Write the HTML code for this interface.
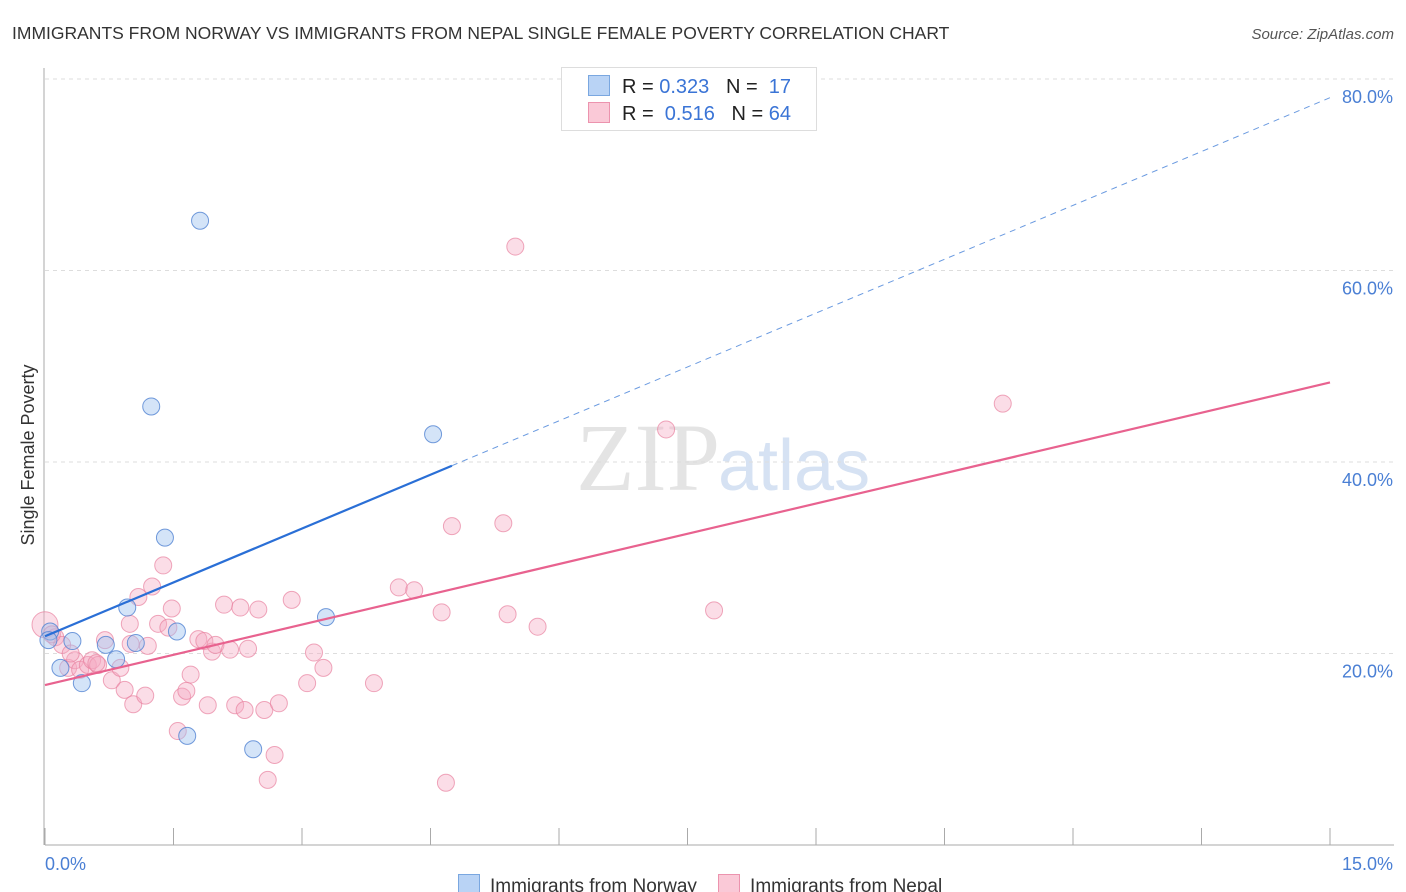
<!DOCTYPE html>
<html><head><meta charset="utf-8"><style>
body{margin:0;background:#fff;font-family:"Liberation Sans",sans-serif}
#wrap{position:relative;width:1406px;height:892px;overflow:hidden}
</style></head><body>
<div id="wrap">
<svg id="svg" width="1406" height="892" xmlns="http://www.w3.org/2000/svg">
<text x="12" y="39" font-size="17.5" fill="#333">IMMIGRANTS FROM NORWAY VS IMMIGRANTS FROM NEPAL SINGLE FEMALE POVERTY CORRELATION CHART</text>
<text x="1394" y="39" font-size="15" fill="#555" font-style="italic" text-anchor="end">Source: ZipAtlas.com</text>
<text x="34" y="455" font-size="18" fill="#333" text-anchor="middle" transform="rotate(-90 34 455)">Single Female Poverty</text>
<text x="720" y="490" font-size="96" fill="#e4e4e4" text-anchor="end" font-family="Liberation Serif,serif">ZIP</text>
<text x="718" y="490" font-size="72" fill="#d6e2f3">atlas</text>
<g id="grid"></g><g id="pts"></g><g id="lines"></g>
</svg>
<div style="position:absolute;left:561px;top:67px;width:254px;height:62px;border:1px solid #ddd;background:#fff;font-size:20px;color:#222">
 <div style="position:absolute;left:26px;top:7px;white-space:pre"><span style="display:inline-block;width:20px;height:19px;background:#b9d3f5;border:1px solid #7aa7e0;vertical-align:-3px;margin-right:12px"></span>R = <span style="color:#3a74d6">0.323</span>   N =  <span style="color:#3a74d6">17</span></div>
 <div style="position:absolute;left:26px;top:34px;white-space:pre"><span style="display:inline-block;width:20px;height:19px;background:#fac9d7;border:1px solid #ec93ae;vertical-align:-3px;margin-right:12px"></span>R =  <span style="color:#3a74d6">0.516</span>   N = <span style="color:#3a74d6">64</span></div>
</div>
<div style="position:absolute;left:458px;top:852px;font-size:19px;color:#333;white-space:pre">
<span><span style="display:inline-block;width:20px;height:19px;background:#b9d3f5;border:1px solid #7aa7e0;vertical-align:-3px;margin-right:10px"></span>Immigrants from Norway</span>    <span><span style="display:inline-block;width:20px;height:19px;background:#fac9d7;border:1px solid #ec93ae;vertical-align:-3px;margin-right:10px"></span>Immigrants from Nepal</span></div>
</div>
<script>
const yTicks=[20,40,60,80];
const yTickLabels=["20.0%","40.0%","60.0%","80.0%"];
const xTickCount=10;
const xMin=0,xMax=15,yMin=0,yMax=80;
const norwayX=[0.06,0.32,0.18,0.43,0.71,0.96,1.06,0.83,1.24,1.40,1.54,1.66,1.81,2.43,3.28,4.53,0.04];
const norwayY=[22.3,21.3,18.5,16.9,20.9,24.8,21.1,19.4,45.8,32.1,22.3,11.4,65.2,10.0,23.8,42.9,21.4];
const nepalX=[0,0.12,0.2,0.27,0.35,0.41,0.5,0.55,0.62,0.7,0.78,0.88,0.93,1.03,0.99,1.09,1.17,1.2,1.25,1.32,1.38,1.44,1.48,1.55,1.6,1.65,1.7,1.79,1.86,1.9,1.95,1.99,2.09,2.16,2.22,2.28,2.33,2.37,2.49,2.56,2.68,2.73,2.6,2.88,3.06,3.14,3.25,3.84,4.13,4.31,4.63,4.68,4.75,5.35,5.4,5.49,5.75,7.25,7.81,11.18,0.08,0.3,0.6,1.0];
const nepalY=[23.0,21.7,20.9,18.5,19.3,18.3,18.8,19.3,18.8,21.4,17.2,18.5,16.2,14.7,23.1,25.9,15.6,20.8,27.0,23.1,29.2,22.7,24.7,11.9,15.5,16.1,17.8,21.5,21.3,14.6,20.2,20.9,25.1,20.4,14.6,24.8,14.1,20.5,24.6,14.1,9.4,14.8,6.8,25.6,16.9,20.1,18.5,16.9,26.9,26.6,24.3,6.5,33.3,33.6,24.1,62.5,22.8,43.4,24.5,46.1,22.0,20.0,19.0,21.0];
const norwayTrend=[21.8,3.75];
const nepalTrend=[16.7,2.107];
const X=v=>45+(v-xMin)/(xMax-xMin)*1285;
const Y=v=>845-(v-yMin)/(yMax-yMin)*766;
const NS='http://www.w3.org/2000/svg';
function mk(t,a,p){const e=document.createElementNS(NS,t);for(const k in a)e.setAttribute(k,a[k]);p.appendChild(e);return e;}
const g=document.getElementById('grid');
yTicks.forEach((t,i)=>{
 const l=mk('line',{x1:45,x2:1394,y1:Y(t),y2:Y(t),stroke:'#ddd','stroke-dasharray':'4,4'},g);
 
 
 const tx=mk('text',{x:1393,y:Y(t)+24,'font-size':18,fill:'#4a7fd4','text-anchor':'end'},g);
 tx.textContent=yTickLabels[i];
 
 
});
const ax=mk('line',{x1:45,x2:1394,y1:845,y2:845,stroke:'#aaa'},g);


const ay=mk('line',{x1:44,x2:44,y1:68,y2:845,stroke:'#aaa'},g);


for(let i=0;i<=xTickCount;i++){
 const v=xMin+(xMax-xMin)*i/xTickCount;
 const t=mk('line',{x1:X(v),x2:X(v),y1:828,y2:845,stroke:'#aaa'},g);
 
 
}
const xl0=mk('text',{x:45,y:870,'font-size':18,fill:'#4a7fd4'},g);xl0.textContent='0.0%';


const xl1=mk('text',{x:1393,y:870,'font-size':18,fill:'#4a7fd4','text-anchor':'end'},g);xl1.textContent='15.0%';


const P=document.getElementById('pts');
nepalX.forEach((x,i)=>{
 const c=mk('circle',{cx:X(x),cy:Y(nepalY[i]),r:i==0?13:8.5,fill:'rgba(246,170,195,0.4)',stroke:'rgba(232,130,160,0.7)','stroke-width':1},P);
 
 
});
norwayX.forEach((x,i)=>{
 const c=mk('circle',{cx:X(x),cy:Y(norwayY[i]),r:8.5,fill:'rgba(160,196,240,0.45)',stroke:'rgba(80,130,210,0.8)','stroke-width':1},P);
 
 
});
const L=document.getElementById('lines');
const f=(tr,x)=>tr[0]+tr[1]*x;
const b1=mk('line',{x1:X(0),y1:Y(f(norwayTrend,0)),x2:X(4.75),y2:Y(f(norwayTrend,4.75)),stroke:'#2a6fd6','stroke-width':2.2},L);


const b2=mk('line',{x1:X(4.75),y1:Y(f(norwayTrend,4.75)),x2:X(15.05),y2:Y(f(norwayTrend,15.05)),stroke:'#6a9ae0','stroke-width':1,'stroke-dasharray':'6,5'},L);


const p1=mk('line',{x1:X(0),y1:Y(f(nepalTrend,0)),x2:X(15),y2:Y(f(nepalTrend,15)),stroke:'#e8628f','stroke-width':2.2},L);


</script>
</body></html>
